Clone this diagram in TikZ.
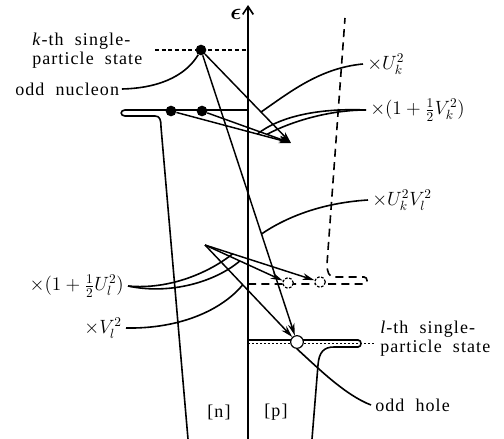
\documentclass[tikz,border=0pt]{standalone}
\usepackage{fontspec}
\setmainfont{Liberation Serif}[LetterSpace=6]
\usepackage{bm}
\usetikzlibrary{arrows.meta,calc}
\begin{document}
\begin{tikzpicture}[x=0.75pt,y=-0.75pt,
  wall/.style={line width=1.2pt},
  dwall/.style={line width=1.2pt,dash pattern=on 6pt off 4pt},
  conn/.style={line width=1.1pt,-{Stealth[length=9pt,width=5pt]}},
  lead/.style={line width=1.2pt},
  lbl/.style={font=\fontsize{13.5}{14.5}\selectfont, inner sep=0pt},
  mlbl/.style={font=\fontsize{14}{15}\selectfont, inner sep=0pt},
  epsl/.style={font=\fontsize{16}{17}\selectfont, inner sep=0pt},
  dot/.style={circle,fill,inner sep=0pt,minimum size=8pt},
  hole/.style={circle,draw,fill=white,inner sep=0pt,minimum size=8pt,line width=0.9pt}
]
\useasboundingbox (0,0) rectangle (504,439);

% axis
\coordinate (ax0) at (248,439);
\coordinate (ax1) at (248,5);
\draw[line width=1.2pt,-{Straight Barb[length=6pt,width=8pt]}] (ax0) -- (ax1);
\node[epsl] (eps) at (236,14) {$\bm{\epsilon}$};

% neutron well
\coordinate (nA) at (248,110);
\coordinate (nB) at (188,439);
\draw[wall] (nA) -- (125,110) .. controls (120,110) and (120,116) .. (125,116)
  -- (155,116) .. controls (160,116) and (161,120) .. (161,127) -- (nB);

% proton well (solid)
\coordinate (pA) at (248,340);
\coordinate (pB) at (312,439);
\draw[wall] (pA) -- (358,340) .. controls (362,340) and (362,347) .. (358,347)
  -- (334,347) .. controls (324,347) and (319,352) .. (318,365) -- (pB);

% proton well (dashed, shifted)
\coordinate (dA) at (248,284);
\coordinate (dB) at (345,18);
\draw[dwall] (dA) -- (364,284) .. controls (368,284) and (368,277) .. (364,277)
  -- (334,277) .. controls (329,277) and (327,272) .. (327,264) -- (dB);

% state lines
\coordinate (kL) at (155,50);
\coordinate (kR) at (248,50);
\draw[line width=1pt,dash pattern=on 3pt off 2pt] (kL) -- (kR);
\coordinate (lL) at (248,343.5);
\coordinate (lR) at (374,343.5);
\draw[line width=1pt,dash pattern=on 1.5pt off 1.5pt] (lL) -- (lR);

% particles and holes
\node[dot] (k) at (201,50) {};
\node[dot] (n1) at (171,111) {};
\node[dot] (n2) at (202,111) {};
\coordinate (t1) at (291,143);
\coordinate (src) at (205,245);
\node[hole,dash pattern=on 2pt off 1.2pt] (c1) at (288,283) {};
\node[hole,dash pattern=on 2pt off 1.2pt] (c2) at (320,282) {};
\node[hole,minimum size=9.5pt] (h) at (297,342) {};

% transitions
\draw[conn] (k) -- (t1);
\draw[conn] (n1) -- (t1);
\draw[conn] (n2) -- (t1);
\draw[conn] (k) -- (h);
\draw[conn] (src) -- (h);
\draw[conn] (src) -- (c1);
\draw[conn] (src) -- (c2);

% labels
\node[lbl,anchor=west,align=left] (kth) at (32,51) {\textit{k}-th\ \ single-\\particle\ \ state};
\node[lbl,anchor=west] (on) at (15,89) {odd\ \ nucleon};
\node[mlbl,anchor=west] (uk) at (367,64) {$\times U_k^2$};
\node[mlbl,anchor=west] (vk) at (370,110) {$\times(1+\frac{1}{2}V_k^2)$};
\node[mlbl,anchor=west] (ukvl) at (372,200) {$\times U_k^2V_l^2$};
\node[mlbl,anchor=east] (ul) at (124,286) {$\times(1+\frac{1}{2}U_l^2)$};
\node[mlbl,anchor=east] (vl) at (122,328) {$\times V_l^2$};
\node[lbl,anchor=west,align=left] (lth) at (380,339) {\textit{l}-th\ \ single-\\particle\ \ state};
\node[lbl,anchor=west] (oh) at (375,405) {odd\ \ hole};
\node[lbl] (nn) at (219,412) {[n]};
\node[lbl] (pp) at (276,412) {[p]};

% leader curves
\draw[lead] ([xshift=2pt]on.east) .. controls (165,88) and (188,72) .. (k);
\draw[lead] ([xshift=-3pt]uk.west) .. controls (320,68) and (290,92) .. ($(k)!0.667!(t1)$);
\draw[lead] ([xshift=-3pt]vk.west) .. controls (320,108) and (280,116) .. ($(n1)!0.72!(t1)$);
\draw[lead] ([xshift=-3pt]vk.west) .. controls (330,110) and (292,121) .. ($(n2)!0.73!(t1)$);
\draw[lead] ([xshift=-3pt]ukvl.west) .. controls (320,203) and (285,218) .. ($(k)!0.63!(h)$);
\draw[lead] ([xshift=3pt]ul.east) .. controls (170,290) and (210,272) .. ($(src)!0.24!(c2)$);
\draw[lead] ([xshift=3pt]ul.east) .. controls (170,295) and (215,282) .. ($(src)!0.42!(c1)$);
\draw[lead] ([xshift=3pt]vl.east) .. controls (180,329) and (222,310) .. ($(src)!0.41!(h)$);
\draw[lead] ([xshift=-3pt]oh.west) .. controls (345,395) and (318,368) .. (h.south);
\end{tikzpicture}
\end{document}
